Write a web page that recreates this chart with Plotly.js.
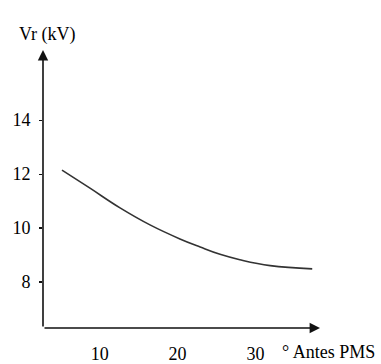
<!DOCTYPE html>
<html>
<head>
<meta charset="utf-8">
<script src="https://cdn.plot.ly/plotly-3.0.1.min.js"></script>
<style>html,body{margin:0;padding:0;background:#fff;}#chart{width:381px;height:364px;}</style>
</head>
<body>
<div id="chart"></div>
<script>
const angleBeforePMS = [5.14, 8.74, 12.6, 16.45, 20.3, 22.9, 25.45, 28.0, 31.9, 37.3];
const voltageKV = [12.15, 11.48, 10.75, 10.12, 9.6, 9.3, 9.03, 8.83, 8.61, 8.49];
const xTickValues = [10, 20, 30];
const yTickValues = [8, 10, 12, 14];
const xTitle = '° Antes PMS';
const yTitle = 'Vr (kV)';

const xRange = [2.7, 38.3];
const yRange = [6.3, 16.6];
const font = {family: 'Liberation Serif', size: 18, color: '#000'};

const data = [{
  x: angleBeforePMS,
  y: voltageKV,
  type: 'scatter',
  mode: 'lines',
  line: {color: '#333', width: 1.6, shape: 'spline', smoothing: 1.2},
  hoverinfo: 'none'
}];

const layout = {
  width: 381, height: 364,
  margin: {l: 43, r: 61, t: 50, b: 36},
  paper_bgcolor: '#fff', plot_bgcolor: '#fff',
  showlegend: false,
  font: font,
  xaxis: {
    range: xRange, tickvals: xTickValues, ticktext: xTickValues.map(String),
    ticks: '', showgrid: false, zeroline: false, showline: false,
    ticklabelstandoff: 13, tickfont: font, fixedrange: true
  },
  yaxis: {
    range: yRange, tickvals: yTickValues, ticktext: yTickValues.map(String),
    ticks: 'outside', ticklen: 3, tickwidth: 1.3, tickcolor: '#111',
    showgrid: false, zeroline: false, showline: false,
    ticklabelstandoff: 5, tickfont: font, fixedrange: true
  },
  yaxis2: {
    overlaying: 'y', range: yRange, tickvals: yTickValues,
    ticks: 'inside', ticklen: 3, tickwidth: 1.3, tickcolor: '#111',
    showticklabels: false, showgrid: false, zeroline: false, showline: false, fixedrange: true
  },
  annotations: [
    {xref: 'x', yref: 'y', axref: 'x', ayref: 'y',
     x: xRange[1], y: yRange[0], ax: xRange[0], ay: yRange[0],
     text: '', showarrow: true, arrowhead: 2, arrowsize: 1.3, arrowwidth: 1.6, arrowcolor: '#111'},
    {xref: 'x', yref: 'y', axref: 'x', ayref: 'y',
     x: xRange[0], y: yRange[1], ax: xRange[0], ay: yRange[0],
     text: '', showarrow: true, arrowhead: 2, arrowsize: 1.3, arrowwidth: 1.6, arrowcolor: '#111'},
    {xref: 'paper', yref: 'paper', x: 1.029, y: -0.086, xanchor: 'center', yanchor: 'middle',
     text: xTitle, showarrow: false, font: font},
    {xref: 'paper', yref: 'paper', x: 0.013, y: 1.054, xanchor: 'center', yanchor: 'middle',
     text: yTitle, showarrow: false, font: font}
  ]
};

Plotly.newPlot('chart', data, layout, {displayModeBar: false, staticPlot: true});
</script>
</body>
</html>
